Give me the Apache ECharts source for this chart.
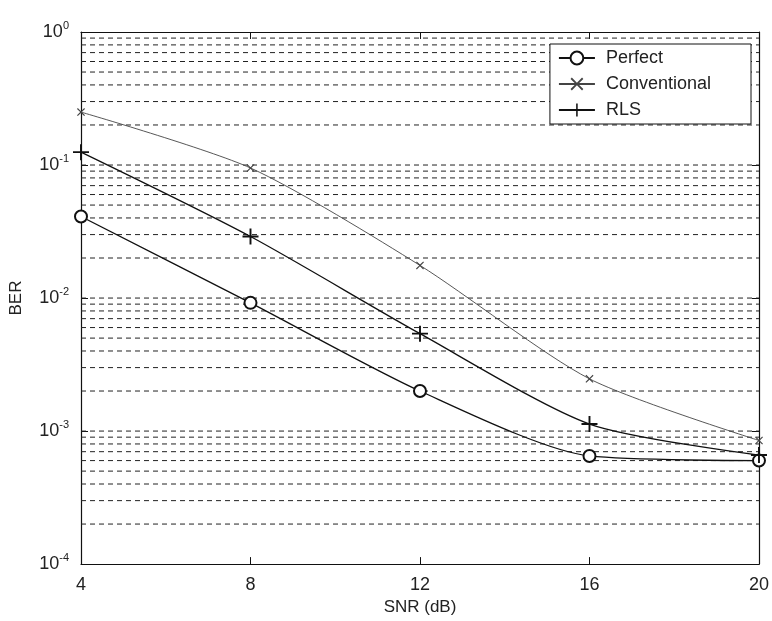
<!DOCTYPE html>
<html>
<head>
<meta charset="utf-8">
<script src="https://cdn.jsdelivr.net/npm/echarts@6/dist/echarts.min.js"></script>
<style>
html, body { margin: 0; padding: 0; background: #fff; }
#chart { width: 772px; height: 621px; }
</style>
</head>
<body>
<div id="chart"></div>
<script>
var snr = [4, 8, 12, 16, 20];
var perfect = [0.041, 0.0092, 0.002, 0.00065, 0.0006];
var conventional = [0.25, 0.095, 0.0176, 0.00247, 0.00085];
var rls = [0.125, 0.029, 0.0054, 0.00113, 0.00066];
// dashed grid lines at every log tick (mantissa x decade)
var mantissas = [1, 2, 3, 4, 5, 6, 7, 8, 9];
var decades = [1e-4, 1e-3, 1e-2, 1e-1];

var gridVals = [];
decades.forEach(function (d) {
    mantissas.forEach(function (m) {
        if (!(d === 1e-4 && m === 1)) gridVals.push(m * d);
    });
});

function pairs(ys) {
    return snr.map(function (x, i) { return [x, ys[i]]; });
}

var font = 'Liberation Sans';
var xMark = 'path://M0,1L1,0L5,4L9,0L10,1L6,5L10,9L9,10L5,6L1,10L0,9L4,5Z';
var plusMark = 'path://M4.4,0H5.6V4.4H10V5.6H5.6V10H4.4V5.6H0V4.4H4.4Z';

var gridSeries = gridVals.map(function (v) {
    return {
        type: 'line',
        silent: true,
        symbol: 'none',
        z: 1,
        data: [[snr[0], v], [snr[snr.length - 1], v]],
        lineStyle: { color: '#222', type: [5, 4], width: 1 }
    };
});

var chart = echarts.init(document.getElementById('chart'));
chart.setOption({
    animation: false,
    backgroundColor: '#fff',
    grid: { left: 81, right: 11, top: 32, bottom: 55 },
    legend: {
        right: 21, top: 44,
        orient: 'vertical',
        itemGap: 8,
        itemWidth: 36,
        itemHeight: 16,
        padding: [5, 40, 5, 8],
        backgroundColor: '#fff',
        borderColor: '#111',
        borderWidth: 1,
        z: 10,
        textStyle: { fontFamily: font, fontSize: 18, color: '#222', padding: [0, 0, 0, 6] },
        data: ['Perfect', 'Conventional', 'RLS']
    },
    xAxis: [{
        type: 'value',
        min: 4, max: 20, interval: 4,
        name: 'SNR (dB)',
        nameLocation: 'middle',
        nameGap: 34,
        nameTextStyle: { fontFamily: font, fontSize: 17, color: '#222' },
        axisLine: { lineStyle: { color: '#111', width: 1.2 } },
        axisTick: { inside: true, length: 7, lineStyle: { color: '#111' } },
        axisLabel: { fontFamily: font, fontSize: 18, color: '#222', margin: 12 },
        splitLine: { show: false }
    }, {
        type: 'value', position: 'top',
        min: 4, max: 20, interval: 4,
        axisLine: { show: true, lineStyle: { color: '#111', width: 1.2 } },
        axisTick: { inside: true, length: 7, lineStyle: { color: '#111' } },
        axisLabel: { show: false },
        splitLine: { show: false }
    }],
    yAxis: [{
        type: 'log', logBase: 10,
        min: 1e-4, max: 1,
        name: 'BER',
        nameLocation: 'middle',
        nameGap: 56,
        nameTextStyle: { fontFamily: font, fontSize: 17, color: '#222' },
        axisLine: { show: true, lineStyle: { color: '#111', width: 1.2 } },
        axisTick: { inside: true, length: 7, lineStyle: { color: '#111' } },
        splitLine: { show: false },
        axisLabel: {
            margin: 12,
            formatter: function (v) {
                return '{b|10}{s|' + Math.round(Math.log10(v)) + '}';
            },
            rich: {
                b: { fontFamily: font, fontSize: 18, color: '#222' },
                s: { fontFamily: font, fontSize: 11, color: '#222', verticalAlign: 'top', padding: [0, 0, 12, 0] }
            }
        }
    }, {
        type: 'log', logBase: 10, position: 'right',
        min: 1e-4, max: 1,
        axisLine: { show: true, lineStyle: { color: '#111', width: 1.2 } },
        axisTick: { inside: true, length: 7, lineStyle: { color: '#111' } },
        axisLabel: { show: false },
        splitLine: { show: false }
    }],
    series: gridSeries.concat([{
        name: 'Perfect',
        type: 'line',
        smooth: 0.25,
        data: pairs(perfect),
        symbol: 'emptyCircle',
        symbolSize: 12,
        itemStyle: { color: '#111', borderWidth: 1.2 },
        lineStyle: { color: '#111', width: 1.3 },
        z: 5
    }, {
        name: 'Conventional',
        type: 'line',
        smooth: 0.25,
        data: pairs(conventional),
        symbol: xMark,
        symbolSize: 8,
        itemStyle: { color: '#444' },
        lineStyle: { color: '#444', width: 0.9 },
        z: 4
    }, {
        name: 'RLS',
        type: 'line',
        smooth: 0.25,
        data: pairs(rls),
        symbol: plusMark,
        symbolSize: 16,
        itemStyle: { color: '#111' },
        lineStyle: { color: '#111', width: 1.3 },
        z: 5
    }])
});
</script>
</body>
</html>
